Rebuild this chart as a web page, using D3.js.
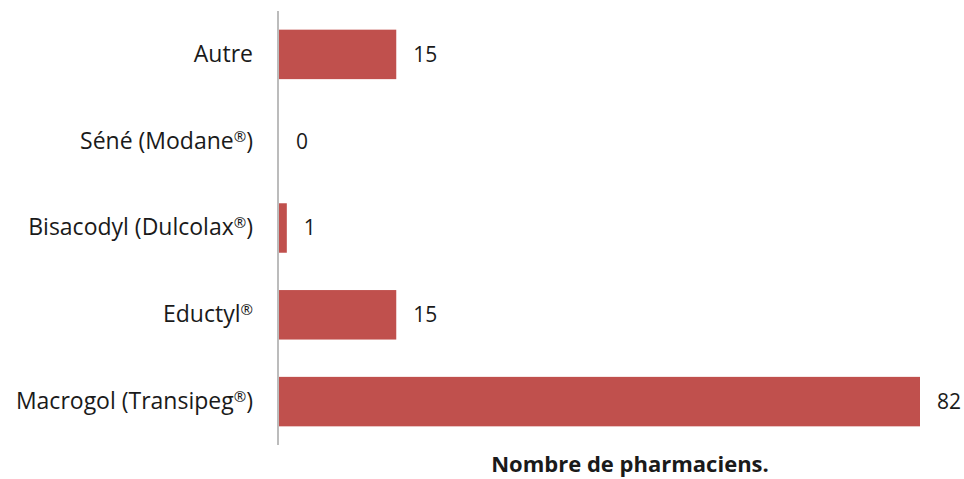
<!DOCTYPE html>
<html>
<head>
<meta charset="utf-8">
<script src="https://cdn.jsdelivr.net/npm/d3@7"></script>
<style>
  body { margin: 0; background: #fff; }
  text { font-family: "Open Sans", "Noto Sans", sans-serif; fill: #1a1a1a; }
</style>
</head>
<body>
<div class="chart"></div>
<script>
// data
var categories = ["Autre", "Séné (Modane®)", "Bisacodyl (Dulcolax®)", "Eductyl®", "Macrogol (Transipeg®)"];
var values = [15, 0, 1, 15, 82];
var axisTitle = "Nombre de pharmaciens.";

var width = 964, height = 479;

var svg = d3.select(".chart").append("svg")
    .attr("width", width)
    .attr("height", height);

var x = d3.scaleLinear().domain([0, 82]).range([279, 920]);
var y = d3.scaleBand().domain(categories).range([11, 445]).paddingInner(0.43).paddingOuter(0.215);

// bars
svg.selectAll("rect.bar")
    .data(categories)
    .enter().append("rect")
    .attr("class", "bar")
    .attr("x", x(0))
    .attr("y", function(d) { return y(d); })
    .attr("width", function(d, i) { return x(values[i]) - x(0); })
    .attr("height", y.bandwidth())
    .attr("fill", "#c0504d");

// value labels
svg.selectAll("text.val")
    .data(categories)
    .enter().append("text")
    .attr("class", "val")
    .attr("x", function(d, i) { return x(values[i]) + 17; })
    .attr("y", function(d) { return y(d) + y.bandwidth() / 2; })
    .attr("dy", "0.35em")
    .attr("font-size", 21)
    .text(function(d, i) { return values[i]; });

// category axis
var yAxis = svg.append("g")
    .attr("transform", "translate(278,0)")
    .call(d3.axisLeft(y).tickSize(0).tickPadding(25));
yAxis.select(".domain").attr("stroke", "#a6a6a6").attr("stroke-width", 1.5)
    .attr("d", "M0,11V445");
yAxis.selectAll(".tick text")
    .attr("font-size", 23)
    .attr("font-family", "'Open Sans', sans-serif")
    .attr("fill", "#1a1a1a")
    .each(function(d) {
        // small raised ® like the original
        var t = d3.select(this);
        var parts = d.split("®");
        if (parts.length < 2) return;
        t.text(null);
        t.append("tspan").text(parts[0]);
        t.append("tspan").attr("font-size", 15).attr("dy", -7).text("®");
        t.append("tspan").attr("dy", 7).text(parts[1]);
    });

// axis title
svg.append("text")
    .attr("x", 630)
    .attr("y", 472)
    .attr("text-anchor", "middle")
    .attr("font-size", 22)
    .attr("font-weight", "bold")
    .text(axisTitle);
</script>
</body>
</html>
